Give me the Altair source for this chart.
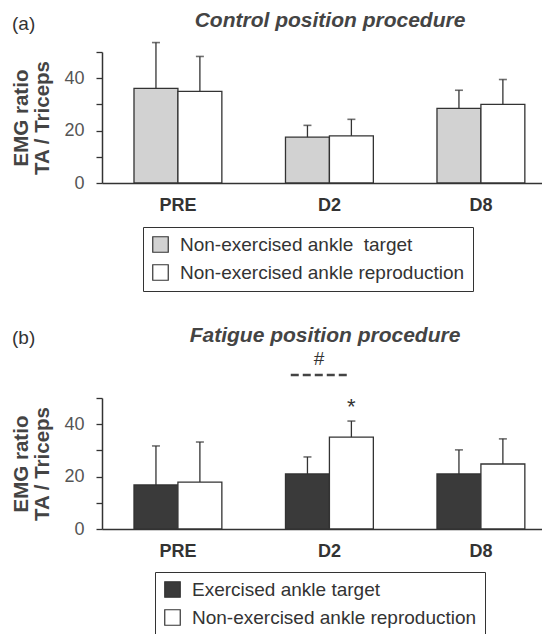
import altair as alt
import pandas as pd

conds = ["PRE", "D2", "D8"]

# Panel (a): control position procedure
a_series = ["Non-exercised ankle\u00a0 target", "Non-exercised ankle reproduction"]
a_target_mean = [36.1, 17.5, 28.5]
a_target_err = [17.5, 4.5, 6.9]
a_repro_mean = [35.0, 18.0, 30.0]
a_repro_err = [13.3, 6.3, 9.5]
a_colors = ["#d2d2d2", "#ffffff"]

# Panel (b): fatigue position procedure
b_series = ["Exercised ankle target", "Non-exercised ankle reproduction"]
b_target_mean = [16.8, 21.0, 21.0]
b_target_err = [14.9, 6.5, 9.2]
b_repro_mean = [17.9, 35.1, 24.8]
b_repro_err = [15.3, 6.1, 9.6]
b_colors = ["#3a3a3a", "#ffffff"]

y_ticks = [0, 10, 20, 30, 40, 50]

FONT = "Liberation Sans"
INK = "#333333"
W, H = 440, 131


def make_df(series, tm, te, rm, re):
    rows = []
    for i, c in enumerate(conds):
        rows.append({"cond": c, "series": series[0], "mean": tm[i], "top": tm[i] + te[i]})
        rows.append({"cond": c, "series": series[1], "mean": rm[i], "top": rm[i] + re[i]})
    return pd.DataFrame(rows)


XAXIS = alt.Axis(title=None, ticks=False, labelAngle=0, labelFont=FONT, labelFontSize=18,
                 labelFontWeight="bold", labelColor=INK, labelPadding=13,
                 domainColor=INK, domainWidth=1.5)


def xenc(bp=None):
    kw = {}
    if bp is not None:
        kw["bandPosition"] = bp
    return alt.X("cond:N", sort=conds,
                 scale=alt.Scale(domain=conds, paddingInner=0.42, paddingOuter=0.1622, align=0.651),
                 axis=XAXIS, **kw)


def panel(label, title, series, colors, df, legend_xy, title_y, label_y, title_x, extra=None):
    xoff = alt.XOffset("series:N", sort=series,
                       scale=alt.Scale(domain=series, paddingInner=0, paddingOuter=0))
    yaxis = alt.Axis(values=y_ticks, labelExpr="datum.value % 20 == 0 ? datum.label : ''",
                     grid=False, tickSize=6, tickColor=INK, tickWidth=1.3, domainColor=INK,
                     domainWidth=1.5, labelFont=FONT, labelFontSize=18, labelColor="#555555",
                     labelPadding=12, title=["EMG ratio", "TA / Triceps"], titleFont=FONT,
                     titleFontSize=20.5, titleFontWeight="bold", titleColor="#444444",
                     titlePadding=11, titleLineHeight=21)
    yscale = alt.Scale(domain=[0, 50], nice=False, zero=True)
    base = alt.Chart(df)
    bars = base.mark_bar(stroke=INK, strokeWidth=1.3).encode(
        x=xenc(), xOffset=xoff,
        y=alt.Y("mean:Q", scale=yscale, axis=yaxis),
        fill=alt.Fill("series:N", sort=series, scale=alt.Scale(domain=series, range=colors),
                      legend=alt.Legend(orient="none", legendX=legend_xy[0], legendY=legend_xy[1],
                                        title=None, direction="vertical", symbolType="square",
                                        symbolSize=240, symbolStrokeColor=INK,
                                        symbolStrokeWidth=1.2, labelFont=FONT, labelFontSize=19,
                                        labelColor=INK, labelLimit=0, strokeColor=INK,
                                        fillColor="white", padding=8, rowPadding=7,
                                        labelOffset=10)),
    )
    err = base.mark_rule(color=INK, strokeWidth=1.3).encode(
        x=xenc(), xOffset=xoff,
        y=alt.Y("mean:Q", scale=yscale, axis=yaxis), y2="top:Q",
    )
    cap = base.mark_tick(color=INK, thickness=1.6, size=8, orient="horizontal").encode(
        x=xenc(), xOffset=xoff,
        y=alt.Y("top:Q", scale=yscale, axis=yaxis),
    )
    ttl = alt.Chart(pd.DataFrame({"t": [title]})).mark_text(
        font=FONT, fontSize=21, fontWeight="bold", fontStyle="italic", color="#444444",
        align="center", baseline="alphabetic",
    ).encode(x=alt.value(title_x), y=alt.value(title_y), text="t:N")
    lab = alt.Chart(pd.DataFrame({"t": [label]})).mark_text(
        font=FONT, fontSize=19, color=INK, align="left", baseline="alphabetic",
    ).encode(x=alt.value(-90), y=alt.value(label_y), text="t:N")
    layers = [bars, err, cap, ttl, lab]
    if extra:
        layers += extra(xoff, yscale, yaxis, series)
    return alt.layer(*layers).properties(width=W, height=H)


def b_extra(xoff, yscale, yaxis, series):
    ann = pd.DataFrame({"cond": ["D2"], "series": [series[1]], "mark": ["#"], "star": ["*"],
                        "top": [b_repro_mean[1] + b_repro_err[1]]})
    base = alt.Chart(ann)
    hash_t = base.mark_text(font=FONT, fontSize=19, fontStyle="italic", color=INK,
                            align="center", baseline="middle").encode(
        x=xenc(0.38), y=alt.value(-39), text="mark:N")
    dash = base.mark_rule(color="#444444", strokeWidth=2.5, strokeDash=[8, 4]).encode(
        x=xenc(0.06),
        x2=alt.X2("cond:N", bandPosition=0.7),
        y=alt.value(-23))
    star = base.mark_text(font=FONT, fontSize=22, color=INK, align="center",
                          baseline="middle", dy=-14).encode(
        x=xenc(), xOffset=xoff,
        y=alt.Y("top:Q", scale=yscale, axis=yaxis), text="star:N")
    return [hash_t, dash, star]


df_a = make_df(a_series, a_target_mean, a_target_err, a_repro_mean, a_repro_err)
df_b = make_df(b_series, b_target_mean, b_target_err, b_repro_mean, b_repro_err)

pa = panel("(a)", "Control position procedure", a_series, a_colors, df_a, (41, 175), -25, -22, 228)
pb = panel("(b)", "Fatigue position procedure", b_series, b_colors, df_b, (53, 174), -56, -54, 223,
           extra=b_extra)

chart = alt.vconcat(pa, pb, spacing=33).resolve_scale(
    fill="independent", x="independent", y="independent", xOffset="independent"
).resolve_legend(fill="independent").properties(
    padding={"left": 3, "top": 2, "right": 0, "bottom": 0},
    background="white",
).configure_view(stroke=None)

chart.save("out.html", embed_options={"renderer": "svg", "actions": False})
